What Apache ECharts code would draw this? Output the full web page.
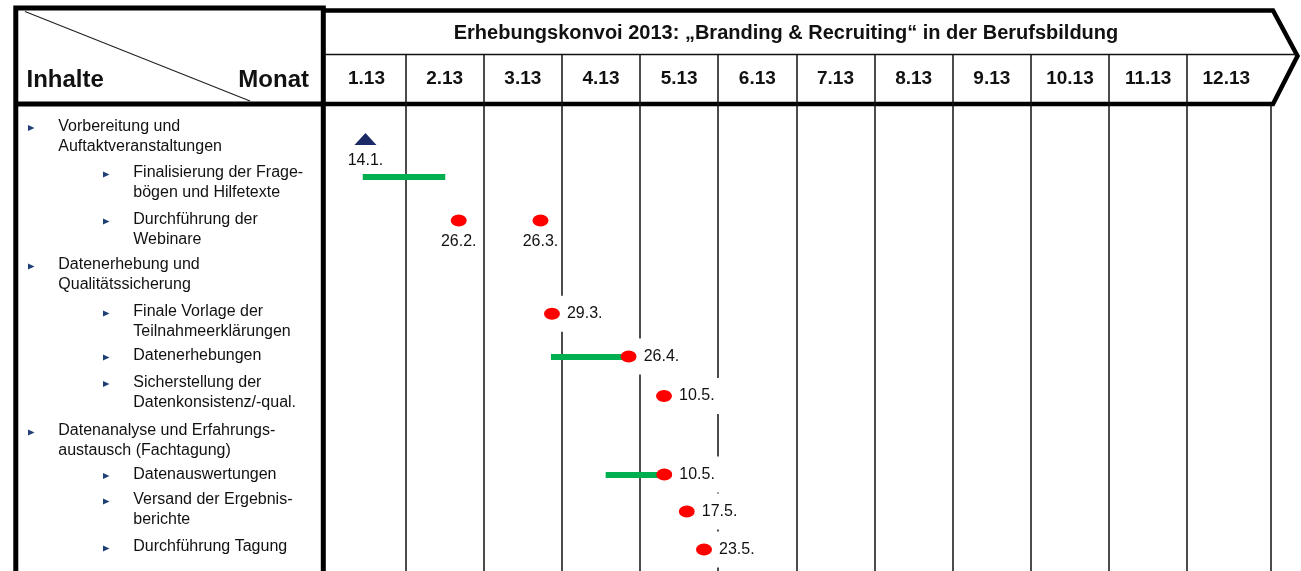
<!DOCTYPE html>
<html>
<head>
<meta charset="utf-8">
<script src="https://cdn.jsdelivr.net/npm/echarts@6/dist/echarts.min.js"></script>
<style>
  html, body { margin: 0; padding: 0; background: #fff; }
  #chart { width: 1301px; height: 571px; }
</style>
</head>
<body>
<div id="chart"></div>
<script>
// Monate im Kopf
const months = ['1.13', '2.13', '3.13', '4.13', '5.13', '6.13', '7.13', '8.13', '9.13', '10.13', '11.13', '12.13'];

// x = Position in Monaten (0 = Anfang Januar), y = Zeile im Plan
const kickoff = [[0.487, 1.85, '14.1.']];
// [start, ende, zeile]
const phaseBars = [[0.452, 1.508, 3.76], [2.86, 3.854, 13.0], [3.56, 4.31, 19.05]];
const webinarDates = [[1.68, 6.03, '26.2.'], [2.726, 6.03, '26.3.']];
const deadlines = [
  [2.873, 10.81, '29.3.'],
  [3.854, 13.0, '26.4.'],
  [4.306, 15.02, '10.5.'],
  [4.31, 19.05, '10.5.'],
  [4.598, 20.95, '17.5.'],
  [4.818, 22.9, '23.5.']
];

// [ebene, text]
const tasks = [
  [1, 'Vorbereitung und\nAuftaktveranstaltungen'],
  [2, 'Finalisierung der Frage-\nbögen und Hilfetexte'],
  [2, 'Durchführung der\nWebinare'],
  [1, 'Datenerhebung und\nQualitätssicherung'],
  [2, 'Finale Vorlage der\nTeilnahmeerklärungen'],
  [2, 'Datenerhebungen'],
  [2, 'Sicherstellung der\nDatenkonsistenz/-qual.'],
  [1, 'Datenanalyse und Erfahrungs-\naustausch (Fachtagung)'],
  [2, 'Datenauswertungen'],
  [2, 'Versand der Ergebnis-\nberichte'],
  [2, 'Durchführung Tagung']
];

const FONT = '"Liberation Sans", Arial, sans-serif';
const INK = '#111';

// Layout der linken Spalte (Mitte der ersten Textzeile)
const taskLineY = [126.5, 173, 220, 265, 312, 356, 382.5, 431, 474.5, 500, 547];

const chart = echarts.init(document.getElementById('chart'));

const graphics = [];
// linker Kasten
graphics.push({
  type: 'polyline',
  shape: { points: [[15.8, 580], [15.8, 8], [323.3, 8], [323.3, 580]] },
  style: { stroke: '#000', lineWidth: 5, fill: null, lineJoin: 'miter' }
});
graphics.push({
  type: 'line',
  shape: { x1: 15.8, y1: 104, x2: 323.3, y2: 104 },
  style: { stroke: '#000', lineWidth: 5 }
});
graphics.push({
  type: 'line',
  shape: { x1: 25, y1: 11.5, x2: 250, y2: 101 },
  style: { stroke: '#222', lineWidth: 1.2 }
});
graphics.push({
  type: 'text', left: 26.5, top: 68,
  style: { text: 'Inhalte', font: 'bold 24px ' + FONT, fill: INK }
});
graphics.push({
  type: 'text', right: 1301 - 309, top: 68,
  style: { text: 'Monat', font: 'bold 24px ' + FONT, fill: INK }
});
// Pfeil im Kopf
graphics.push({
  type: 'polyline',
  shape: { points: [[323.3, 10.5], [1273, 10.5], [1297.5, 56], [1273, 104], [323.3, 104]] },
  style: { stroke: '#000', lineWidth: 4.5, fill: null, lineJoin: 'miter' }
});
graphics.push({
  type: 'line',
  shape: { x1: 323.3, y1: 54.5, x2: 1296, y2: 54.5 },
  style: { stroke: '#111', lineWidth: 1.5 }
});
graphics.push({
  type: 'line',
  shape: { x1: 1271, y1: 104, x2: 1271, y2: 571 },
  style: { stroke: '#111', lineWidth: 1.5 }
});
// Inhalte
tasks.forEach(function (t, i) {
  const tx = t[0] === 1 ? 58.3 : 133.3;
  const bx = t[0] === 1 ? 31 : 106;
  const y = taskLineY[i];
  graphics.push({
    type: 'polygon',
    shape: { points: [[bx - 3, y - 1.5], [bx + 3.5, y + 1.5], [bx - 3, y + 4.5]] },
    style: { fill: '#1f3f77' }
  });
  graphics.push({
    type: 'text', x: tx, y: y - 10,
    style: { text: t[1], font: '16px ' + FONT, fill: INK, lineHeight: 20, verticalAlign: 'top' }
  });
});

const dateLabel = {
  show: true,
  formatter: function (p) { return p.value[2]; },
  color: INK,
  fontSize: 16,
  fontFamily: FONT
};

const option = {
  backgroundColor: '#fff',
  animation: false,
  title: {
    text: 'Erhebungskonvoi 2013: „Branding & Recruiting“ in der Berufsbildung',
    left: 786,
    top: 23,
    padding: 0,
    textAlign: 'center',
    textStyle: { fontSize: 20, fontWeight: 'bold', color: INK, fontFamily: FONT }
  },
  grid: [
    { left: 327.4, width: 938, top: 103, height: 468 },
    { left: 327.4, width: 938, top: 55, height: 49 }
  ],
  xAxis: [
    {
      gridIndex: 0, type: 'value', min: 0, max: 12, interval: 1,
      axisLine: { show: false }, axisTick: { show: false }, axisLabel: { show: false },
      splitLine: { show: true, showMinLine: false, showMaxLine: false, lineStyle: { color: '#111', width: 1.5 } }
    },
    {
      gridIndex: 1, type: 'category', data: months, position: 'bottom',
      axisLine: { show: false }, axisTick: { show: false },
      axisLabel: {
        inside: true, margin: 16, interval: 0,
        fontSize: 19, fontWeight: 'bold', color: INK, fontFamily: FONT, lineHeight: 19
      },
      splitLine: { show: true, interval: 0, showMinLine: false, showMaxLine: false, lineStyle: { color: '#111', width: 1.5 } }
    }
  ],
  yAxis: [
    { gridIndex: 0, type: 'value', inverse: true, min: 0, max: 24, show: false },
    { gridIndex: 1, type: 'value', show: false }
  ],
  graphic: graphics,
  series: [
    {
      name: 'Phasen',
      type: 'lines',
      coordinateSystem: 'cartesian2d',
      xAxisIndex: 0, yAxisIndex: 0,
      z: 2,
      lineStyle: { color: '#00b050', width: 6, opacity: 1, curveness: 0 },
      data: phaseBars.map(function (b) {
        return { coords: [[b[0], b[2]], [b[1], b[2]]] };
      })
    },
    {
      name: 'Auftakt',
      type: 'scatter',
      xAxisIndex: 0, yAxisIndex: 0,
      z: 3,
      symbol: 'triangle',
      symbolSize: [22, 12],
      itemStyle: { color: '#1b2a66', opacity: 1 },
      label: Object.assign({ position: 'bottom', distance: 8 }, dateLabel),
      data: kickoff
    },
    {
      name: 'Webinare',
      type: 'scatter',
      xAxisIndex: 0, yAxisIndex: 0,
      z: 3,
      symbol: 'circle',
      symbolSize: [16, 12],
      itemStyle: { color: '#ff0000', opacity: 1 },
      label: Object.assign({ position: 'bottom', distance: 7 }, dateLabel),
      data: webinarDates
    },
    {
      name: 'Termine',
      type: 'scatter',
      xAxisIndex: 0, yAxisIndex: 0,
      z: 3,
      symbol: 'circle',
      symbolSize: [16, 12],
      itemStyle: { color: '#ff0000', opacity: 1 },
      label: Object.assign({
        position: 'right', distance: 0,
        backgroundColor: '#fff', padding: [10, 7, 10, 7], lineHeight: 16
      }, dateLabel),
      data: deadlines
    }
  ]
};

chart.setOption(option);
</script>
</body>
</html>
